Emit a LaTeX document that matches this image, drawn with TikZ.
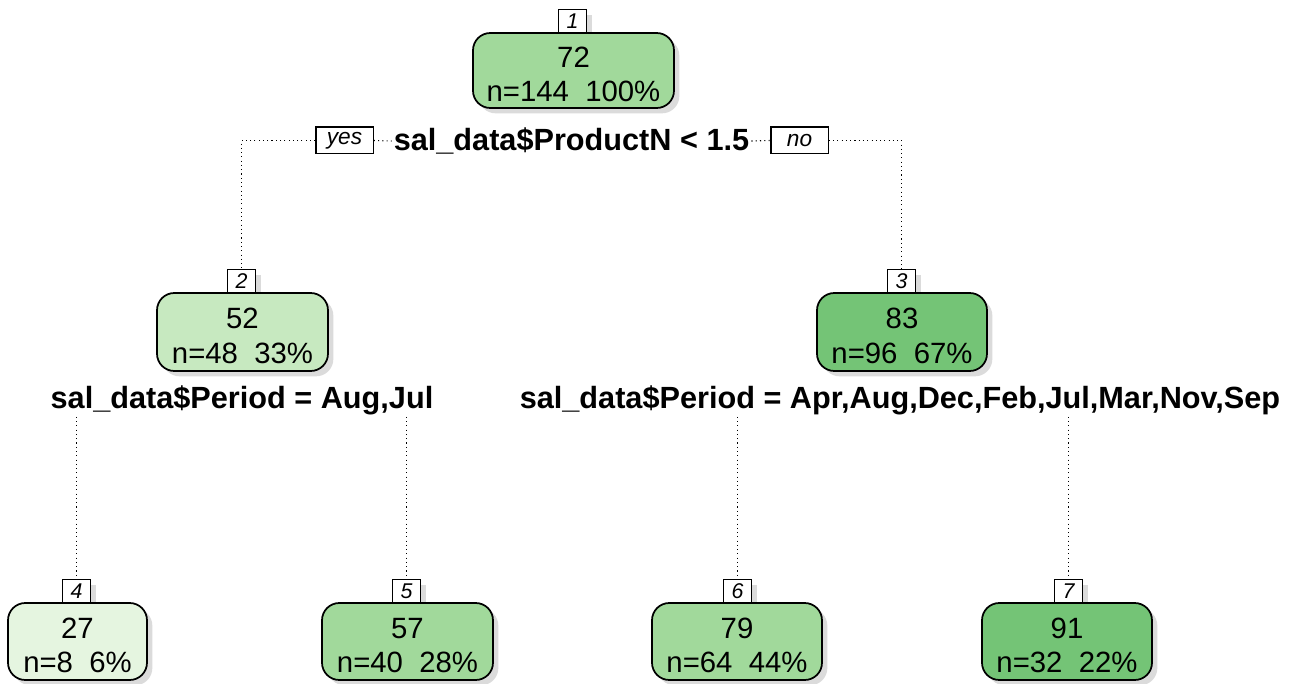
\documentclass[tikz,border=0pt]{standalone}
\usepackage{fontspec}
\setmainfont{Liberation Sans}
\usetikzlibrary{shadows}
\definecolor{gA}{HTML}{E5F5E0}
\definecolor{gB}{HTML}{C7E9C0}
\definecolor{gC}{HTML}{A1D99B}
\definecolor{gD}{HTML}{74C476}
\definecolor{shade}{HTML}{B8B8B8}
\newcommand{\toppad}[1]{\raisebox{0pt}[\dimexpr\height+6pt\relax]{#1}}
\newcommand{\lowdigit}[1]{\raisebox{-2.5pt}{#1}}
\tikzset{
  treenode/.style={draw=black, line width=1.3pt, rounded corners=13pt, inner sep=0pt,
    align=center, font=\fontsize{22}{26}\selectfont,
    drop shadow={shadow xshift=4pt, shadow yshift=-4pt, fill=shade}},
  numbox/.style={draw=black, line width=1pt, fill=white, minimum width=21pt,
    minimum height=17pt, inner sep=0pt, font=\fontsize{16}{16}\selectfont\itshape,
    drop shadow={shadow xshift=4pt, shadow yshift=-4pt, fill=shade}},
  yesno/.style={draw=black, line width=1pt, fill=white, minimum width=43pt,
    minimum height=20pt, inner sep=0pt, font=\fontsize{17}{17}\selectfont\itshape},
  splitlabel/.style={fill=white, inner sep=1.5pt, font=\fontsize{23}{23}\selectfont\bfseries},
  conn/.style={line width=0.8pt, dash pattern=on 0.8pt off 2.4pt},
}
\begin{document}
\begin{tikzpicture}[x=0.75pt,y=-0.75pt]
\useasboundingbox[fill=white] (0,0) rectangle (1296,684);

% number boxes (drawn first so nodes cover their shadows)
\node[numbox, anchor=south] (lab1) at (572.5,33) {\lowdigit{1}};
\node[numbox, anchor=south] (lab2) at (241.5,293) {\lowdigit{2}};
\node[numbox, anchor=south] (lab3) at (901.5,293) {\lowdigit{3}};
\node[numbox, anchor=south] (lab4) at (76.5,603) {\lowdigit{4}};
\node[numbox, anchor=south] (lab5) at (406.5,603) {\lowdigit{5}};
\node[numbox, anchor=south] (lab6) at (737.5,603) {\lowdigit{6}};
\node[numbox, anchor=south] (lab7) at (1068.5,603) {\lowdigit{7}};

% tree nodes
\node[treenode, fill=gC, minimum width=150.75pt, minimum height=56.25pt] (n1) at (573.5,70.5) {\toppad{72}\\n=144\ \ 100\%};
\node[treenode, fill=gB, minimum width=128.25pt, minimum height=58.5pt] (n2) at (242.5,332) {\toppad{52}\\n=48\ \ 33\%};
\node[treenode, fill=gD, minimum width=127.5pt, minimum height=58.5pt] (n3) at (902,332) {\toppad{83}\\n=96\ \ 67\%};
\node[treenode, fill=gA, minimum width=104.25pt, minimum height=57.75pt] (n4) at (77.5,641.5) {\toppad{27}\\n=8\ \ 6\%};
\node[treenode, fill=gC, minimum width=128.25pt, minimum height=57.75pt] (n5) at (407.5,641.5) {\toppad{57}\\n=40\ \ 28\%};
\node[treenode, fill=gC, minimum width=127.5pt, minimum height=57.75pt] (n6) at (737,641.5) {\toppad{79}\\n=64\ \ 44\%};
\node[treenode, fill=gD, minimum width=127.5pt, minimum height=57.75pt] (n7) at (1067,641.5) {\toppad{91}\\n=32\ \ 22\%};

% split labels
\node[splitlabel] (s1) at (571.5,141) {sal\_data\$ProductN < 1.5};
\node[yesno] (yes) at (344.5,140.5) {yes};
\node[yesno] (no) at (799.5,140.5) {no};
\node[splitlabel] (s2) at (242,400) {sal\_data\$Period = Aug,Jul};
\node[splitlabel] (s3) at (900,400) {sal\_data\$Period = Apr,Aug,Dec,Feb,Jul,Mar,Nov,Sep};

% connectors
\coordinate (c1l) at (lab2 |- yes);
\coordinate (c1r) at (lab3 |- no);
\draw[conn] (yes.west) -- (c1l) -- (lab2.north);
\draw[conn] (yes.east) -- (s1.west);
\draw[conn] (s1.east) -- (no.west);
\draw[conn] (no.east) -- (c1r) -- (lab3.north);
\draw[conn] (lab4 |- s2.south) -- (lab4.north);
\draw[conn] (lab5 |- s2.south) -- (lab5.north);
\draw[conn] (lab6 |- s3.south) -- (lab6.north);
\draw[conn] (lab7 |- s3.south) -- (lab7.north);
\end{tikzpicture}
\end{document}
